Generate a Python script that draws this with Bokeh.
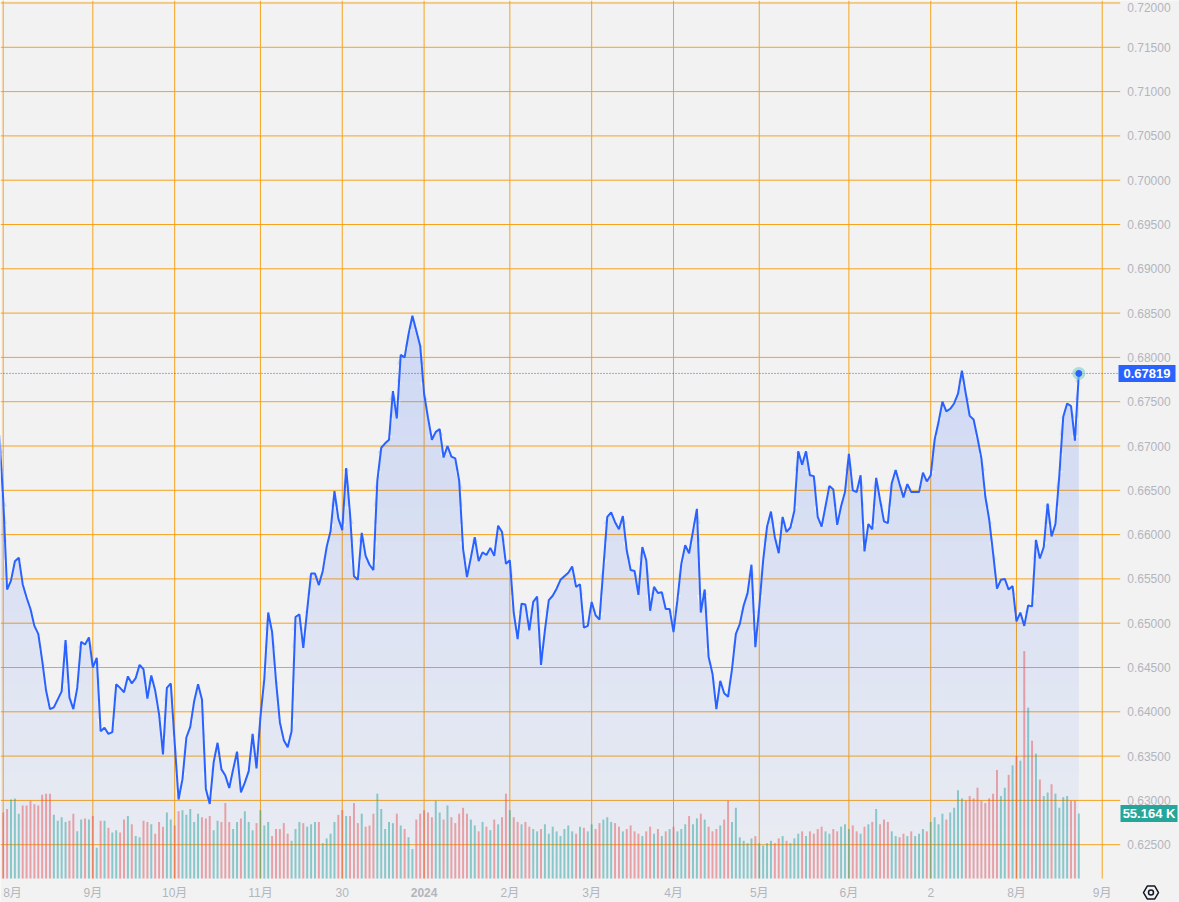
import numpy as np
from bokeh.plotting import figure
from bokeh.models import Range1d, ColumnDataSource
from bokeh.embed import file_html
from bokeh.resources import INLINE
from bokeh.core.properties import value

# ---- data (daily closes, bar index -1 .. 276) ----
close = [
    0.6712, 0.6640, 0.6538, 0.6548, 0.6570, 0.6574, 0.6544, 0.6529, 0.6516, 0.6497,
    0.6488, 0.6458, 0.6424, 0.6403, 0.6405, 0.6414, 0.6423, 0.6481, 0.6416, 0.6403,
    0.6427, 0.6479, 0.6476, 0.6484, 0.6450, 0.6461, 0.6378, 0.6382, 0.6375, 0.6377,
    0.6431, 0.6427, 0.6422, 0.6440, 0.6432, 0.6438, 0.6453, 0.6448, 0.6415, 0.6441,
    0.6424, 0.6397, 0.6352, 0.6427, 0.6432, 0.6365, 0.6301, 0.6324, 0.6371, 0.6383,
    0.6412, 0.6431, 0.6414, 0.6313, 0.6296, 0.6343, 0.6365, 0.6335, 0.6328, 0.6314,
    0.6335, 0.6355, 0.6309, 0.6320, 0.6333, 0.6375, 0.6336, 0.6394, 0.6437, 0.6512,
    0.6490, 0.6435, 0.6388, 0.6368, 0.6360, 0.6378, 0.6507, 0.6510, 0.6472, 0.6515,
    0.6556, 0.6556, 0.6543, 0.6559, 0.6586, 0.6604, 0.6649, 0.6618, 0.6605, 0.6675,
    0.6623, 0.6553, 0.6549, 0.6602, 0.6576, 0.6566, 0.6560, 0.6661, 0.6698, 0.6703,
    0.6707, 0.6762, 0.6731, 0.6803, 0.6800, 0.6826, 0.6847, 0.6830, 0.6813, 0.6759,
    0.6732, 0.6707, 0.6716, 0.6719, 0.6687, 0.6700, 0.6688, 0.6686, 0.6661, 0.6584,
    0.6552, 0.6574, 0.6597, 0.6570, 0.6580, 0.6577, 0.6585, 0.6576, 0.6610, 0.6603,
    0.6567, 0.6571, 0.6512, 0.6482, 0.6522, 0.6521, 0.6492, 0.6524, 0.6530, 0.6453,
    0.6492, 0.6526, 0.6531, 0.6539, 0.6549, 0.6553, 0.6557, 0.6564, 0.6541, 0.6544,
    0.6495, 0.6497, 0.6524, 0.6509, 0.6504, 0.6562, 0.6620, 0.6625, 0.6614, 0.6606,
    0.6621, 0.6582, 0.6560, 0.6559, 0.6532, 0.6586, 0.6571, 0.6514, 0.6541, 0.6534,
    0.6535, 0.6516, 0.6516, 0.6490, 0.6526, 0.6567, 0.6588, 0.6579, 0.6604, 0.6629,
    0.6512, 0.6538, 0.6462, 0.6443, 0.6403, 0.6435, 0.6421, 0.6417, 0.6448, 0.6488,
    0.6499, 0.6520, 0.6534, 0.6566, 0.6473, 0.6518, 0.6571, 0.6609, 0.6626, 0.6597,
    0.6579, 0.6620, 0.6603, 0.6608, 0.6627, 0.6694, 0.6679, 0.6694, 0.6667, 0.6666,
    0.6620, 0.6609, 0.6632, 0.6655, 0.6651, 0.6611, 0.6632, 0.6648, 0.6691, 0.6650,
    0.6648, 0.6667, 0.6581, 0.6612, 0.6606, 0.6664, 0.6639, 0.6615, 0.6613, 0.6658,
    0.6673, 0.6657, 0.6642, 0.6657, 0.6648, 0.6648, 0.6648, 0.6670, 0.6660, 0.6667,
    0.6707, 0.6727, 0.6750, 0.6739, 0.6742, 0.6748, 0.6759, 0.6785, 0.6759, 0.6734,
    0.6730, 0.6709, 0.6686, 0.6643, 0.6617, 0.6579, 0.6539, 0.6549, 0.6550, 0.6538,
    0.6542, 0.6502, 0.6512, 0.6497, 0.6520, 0.6519, 0.6594, 0.6573, 0.6586, 0.6635,
    0.6598, 0.6612, 0.6667, 0.6733, 0.6748, 0.6745, 0.6706, 0.67819,
]

# volume in thousands, bar index 0 .. 276
volume_k = [
    56, 59, 67, 68, 55, 62, 62, 66, 63, 62, 71, 72, 72, 54, 49, 52, 48, 49, 55, 40,
    50, 51, 50, 53, 26, 49, 49, 43, 39, 41, 39, 50, 53, 46, 36, 35, 49, 48, 46, 38,
    48, 44, 56, 50, 45, 57, 58, 54, 59, 48, 55, 52, 51, 53, 41, 49, 48, 64, 48, 42,
    48, 51, 57, 48, 41, 47, 58, 45, 48, 36, 42, 42, 47, 38, 32, 42, 48, 47, 44, 46,
    48, 48, 30, 34, 38, 48, 54, 58, 53, 53, 64, 47, 55, 44, 45, 55, 72, 59, 42, 48,
    47, 55, 45, 42, 35, 25, 50, 55, 58, 56, 52, 66, 56, 50, 62, 52, 47, 55, 60, 55,
    50, 45, 40, 48, 44, 41, 50, 46, 52, 72, 58, 52, 48, 46, 48, 44, 42, 40, 42, 46,
    38, 44, 40, 36, 42, 45, 40, 38, 44, 43, 40, 46, 42, 47, 50, 52, 48, 47, 44, 40,
    42, 45, 40, 38, 36, 40, 44, 38, 42, 36, 40, 42, 44, 40, 42, 46, 53, 46, 51, 55,
    50, 44, 40, 42, 45, 50, 66, 48, 60, 35, 32, 30, 34, 36, 30, 28, 30, 32, 30, 34,
    36, 32, 30, 34, 38, 40, 36, 40, 38, 42, 44, 40, 38, 42, 40, 44, 46, 42, 45, 40,
    38, 44, 46, 48, 59, 46, 50, 48, 40, 36, 35, 38, 36, 40, 36, 38, 42, 40, 48, 52,
    46, 55, 50, 56, 60, 75, 68, 66, 70, 68, 77, 66, 64, 68, 72, 92, 70, 77, 88, 96,
    104, 100, 193, 145, 117, 106, 84, 70, 73, 80, 72, 60, 69, 70, 66, 66, 55.164,
]

tick_pos = [0, 23, 44, 66, 87, 108, 130, 151, 172, 194, 217, 238, 260, 282]
tick_labels = ["8月", "9月", "10月", "11月", "30", "2024", "2月", "3月", "4月",
               "5月", "6月", "2", "8月", "9月"]
price_ticks = [0.625, 0.630, 0.635, 0.640, 0.645, 0.650, 0.655, 0.660, 0.665, 0.670,
               0.675, 0.680, 0.685, 0.690, 0.695, 0.700, 0.705, 0.710, 0.715, 0.720]
last_price = 0.67819
last_volume_label = "55.164 K"

BG = "#f2f2f2"
GRID = "#f7a31c"
LINE = "#2962ff"
UP = "#26a69a"
DOWN = "#ef5350"
TXT = "#b2b5be"
FONT = "Liberation Sans"

# ---- geometry (pixel layout of the pane, price scale strip and time scale strip) ----
FW, FH = 1179, 902
PANE_H = 878                     # height of the chart pane above the time scale
PXU = 3.8972                     # pixels per daily bar
X0 = -2.7 / PXU                  # left edge of the frame in bar units
XEND = 282.0                     # right edge of the time area (9月 gridline)
XR = X0 + FW / PXU
PX_PRICE = 1.0 / 8860            # price per pixel
Y_TOP = 0.720 + 2.5 * PX_PRICE
Y_BOT = 0.720 - (FH - 2.5) * PX_PRICE
Y_PANE = 0.720 - (PANE_H - 2.5) * PX_PRICE      # bottom of chart pane
Y_TIME = 0.720 - (892 - 2.5) * PX_PRICE         # time-scale label line
K_PX = 55.164 / 65                              # volume (K) per pixel
V_BOT, V_TOP = -(FH - PANE_H) * K_PX, PANE_H * K_PX

xs = np.arange(-1, len(close) - 1)
ys = np.array(close)
vx = np.arange(0, len(volume_k))
vcol = [UP if close[i + 1] >= close[i] else DOWN for i in range(len(volume_k))]

p = figure(frame_width=FW, frame_height=FH, x_axis_type=None, y_axis_type=None,
           x_range=Range1d(X0, XR), y_range=Range1d(Y_BOT, Y_TOP),
           output_backend="svg", toolbar_location=None,
           min_border_left=0, min_border_top=0, min_border_bottom=0, min_border_right=0,
           background_fill_color=BG, border_fill_color=BG, outline_line_color=None)
p.extra_y_ranges = {"vol": Range1d(V_BOT, V_TOP)}
p.grid.grid_line_color = None

# vertical time grid lines (pane only)
p.segment(x0=tick_pos, x1=tick_pos, y0=[Y_PANE] * len(tick_pos), y1=[Y_TOP] * len(tick_pos),
          line_color=GRID, line_width=1)
# time scale labels (the first one starts at the left edge so it is not cut)
tsrc = ColumnDataSource(dict(
    x=[max(t, X0 + 0.3) for t in tick_pos], y=[Y_TIME] * len(tick_pos), t=tick_labels,
    s=["bold" if l.isdigit() and len(l) == 4 else "normal" for l in tick_labels],
    a=["left" if t - X0 < 3 else "center" for t in tick_pos]))
p.text(x="x", y="y", text="t", text_font_style="s", text_align="a", source=tsrc,
       text_font=value("Liberation Sans, Noto Sans CJK SC"), text_font_size="12px",
       text_color=TXT, text_baseline="middle")

# horizontal price grid lines running into the price scale as ticks
tick_end = XEND + 18 / PXU
p.segment(x0=[X0] * len(price_ticks), x1=[tick_end] * len(price_ticks),
          y0=price_ticks, y1=price_ticks, line_color=GRID, line_width=1)
# price scale labels (top one hangs below its line so it stays inside)
lab_x = XEND + 25 / PXU
p.text(x=[lab_x] * (len(price_ticks) - 1), y=price_ticks[:-1],
       text=[f"{t:.5f}" for t in price_ticks[:-1]], text_font=value(FONT),
       text_font_size="12px", text_color=TXT, text_baseline="middle", text_align="left")
p.text(x=[lab_x], y=price_ticks[-1:], text=[f"{price_ticks[-1]:.5f}"], text_font=value(FONT),
       text_font_size="12px", text_color=TXT, text_baseline="top", text_align="left")

# volume bars
p.vbar(x=vx, top=volume_k, bottom=0, width=0.5, fill_color=vcol, fill_alpha=0.5,
       line_color=None, y_range_name="vol")

# gradient area under the line (horizontal bands of rising opacity)
levels = Y_PANE + 0.002 * np.arange(0, 36)
for k in range(len(levels) - 1):
    lo, hi = levels[k], levels[k + 1]
    top = np.clip(ys, lo, hi)
    a = 0.035 + 0.15 * (lo - 0.620) / (0.686 - 0.620)
    p.varea(x=xs, y1=np.full(len(ys), lo), y2=top, fill_color=LINE, fill_alpha=a)

# price line
p.line(xs, ys, line_color=LINE, line_width=2)

# last price dotted line + marker
p.segment(x0=[X0], x1=[XEND + 16 / PXU], y0=[last_price], y1=[last_price],
          line_color=LINE, line_dash="1 2", line_width=1)
p.scatter([xs[-1]], [last_price], size=13, fill_color="#7fcfc4", fill_alpha=0.6, line_color=None)
p.scatter([xs[-1]], [last_price], size=6, fill_color=LINE, line_color=LINE)

# value tags on the price scale
tag_x = XEND + 44.8 / PXU
p.rect(x=[tag_x], y=[last_price], width=57, height=17, width_units="screen",
       height_units="screen", fill_color=LINE, line_color=None)
p.text(x=[tag_x], y=[last_price], text=[f"{last_price:.5f}"], text_font=value(FONT),
       text_font_style="bold", text_font_size="13px", text_color="white",
       text_baseline="middle", text_align="center")
vtag_x = XEND + 46.8 / PXU
p.rect(x=[vtag_x], y=[volume_k[-1]], width=57, height=17, width_units="screen",
       height_units="screen", fill_color=UP, line_color=None, y_range_name="vol")
p.text(x=[vtag_x], y=[volume_k[-1]], text=[last_volume_label], text_font=value(FONT),
       text_font_style="bold", text_font_size="13px", text_color="white",
       text_baseline="middle", text_align="center", y_range_name="vol")

# chart settings button (hexagon with a ring) in the corner of the scales
icon_x = X0 + 1150.5 / PXU
p.scatter([icon_x], [Y_TIME], marker="hex", size=15, fill_color=None,
          line_color="#131722", line_width=1.5)
p.scatter([icon_x], [Y_TIME], marker="circle", size=5, fill_color=None,
          line_color="#131722", line_width=1.5)

open("out.html", "w").write(file_html(p, INLINE))
